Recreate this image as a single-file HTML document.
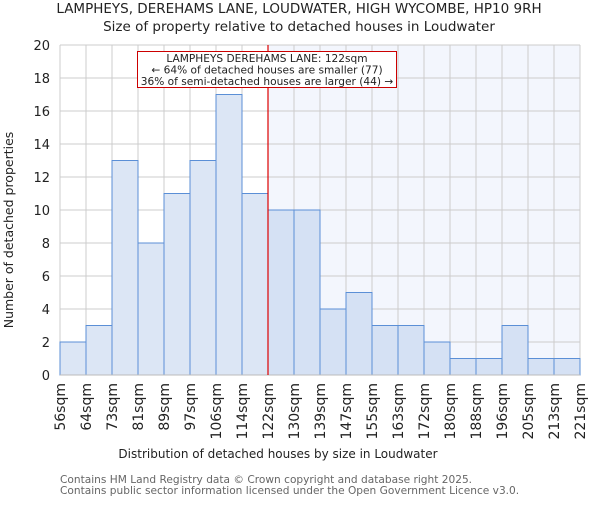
<!DOCTYPE html>
<html><head><meta charset="utf-8"><style>body{margin:0;background:#fff}svg{font-family:"DejaVu Sans","Liberation Sans",sans-serif}</style></head>
<body>
<svg id="c" width="600" height="500">
<text x="299" y="13" text-anchor="middle" font-size="13.5" fill="#222">LAMPHEYS, DEREHAMS LANE, LOUDWATER, HIGH WYCOMBE, HP10 9RH</text>
<text x="299" y="31" text-anchor="middle" font-size="13.5" fill="#222">Size of property relative to detached houses in Loudwater</text>
<g id="plot"></g>
<text transform="translate(13,230) rotate(-90)" text-anchor="middle" font-size="12.5" fill="#222">Number of detached properties</text>
<text x="278" y="458" text-anchor="middle" font-size="12" fill="#222">Distribution of detached houses by size in Loudwater</text>
<text x="60" y="483" font-size="10.6" fill="#666">Contains HM Land Registry data © Crown copyright and database right 2025.</text>
<text x="60" y="494" font-size="10.6" fill="#666">Contains public sector information licensed under the Open Government Licence v3.0.</text>
</svg>
<script>
const categories=["56sqm","64sqm","73sqm","81sqm","89sqm","97sqm","106sqm","114sqm","122sqm","130sqm","139sqm","147sqm","155sqm","163sqm","172sqm","180sqm","188sqm","196sqm","205sqm","213sqm","221sqm"];
const counts=[2,3,13,8,11,13,17,11,10,10,4,5,3,3,2,1,1,3,1,1];
const yTicks=[0,2,4,6,8,10,12,14,16,18,20];
const markerIndex=8;
const NS="http://www.w3.org/2000/svg";
const g=document.getElementById('plot');
const x0=60,x1=580,y0=375,y1=45,yMax=20;
const bw=(x1-x0)/counts.length;
const X=i=>x0+i*bw, Y=v=>y0-(v/yMax)*(y0-y1);
function mk(t,a,p){const e=document.createElementNS(NS,t);for(const k in a)e.setAttribute(k,a[k]);(p||g).appendChild(e);return e;}
let e=mk('rect',{x:X(markerIndex),y:y1,width:x1-X(markerIndex),height:y0-y1,fill:'#f3f6fd'});


yTicks.forEach(v=>{let l=mk('line',{x1:x0,x2:x1,y1:Y(v),y2:Y(v),stroke:'#ccc'});


let t=mk('text',{x:x0-10,y:Y(v)+5,'text-anchor':'end','font-size':13,fill:'#222'});t.textContent=v;

});
categories.forEach((c,i)=>{let l=mk('line',{x1:X(i),x2:X(i),y1:y1,y2:y0,stroke:'#ccc'});


let t=mk('text',{transform:`translate(${X(i)+5},${y0+8}) rotate(-90)`,'text-anchor':'end','font-size':14,fill:'#222'});t.textContent=c;

});
counts.forEach((v,i)=>{let r=mk('rect',{x:X(i),y:Y(v),width:bw,height:y0-Y(v),fill:i>=markerIndex?'#d5e1f4':'#dce6f5',stroke:'#5b8fd6','stroke-width':1});

});
let ax=mk('line',{x1:x0,x2:x1,y1:y0,y2:y0,stroke:'#bbb'});


let m=mk('line',{x1:X(markerIndex),x2:X(markerIndex),y1:y1,y2:y0,stroke:'#d00','stroke-width':1.2});


const ag=mk('g',{});


mk('rect',{x:137.5,y:51.5,width:259,height:36,fill:'#fff',stroke:'#c00'},ag);
["LAMPHEYS DEREHAMS LANE: 122sqm","← 64% of detached houses are smaller (77)","36% of semi-detached houses are larger (44) →"].forEach((s,k)=>{let t=mk('text',{x:267,y:62+k*11.5,'text-anchor':'middle','font-size':10.6,fill:'#222'},ag);t.textContent=s;

});
</script>
</body></html>
